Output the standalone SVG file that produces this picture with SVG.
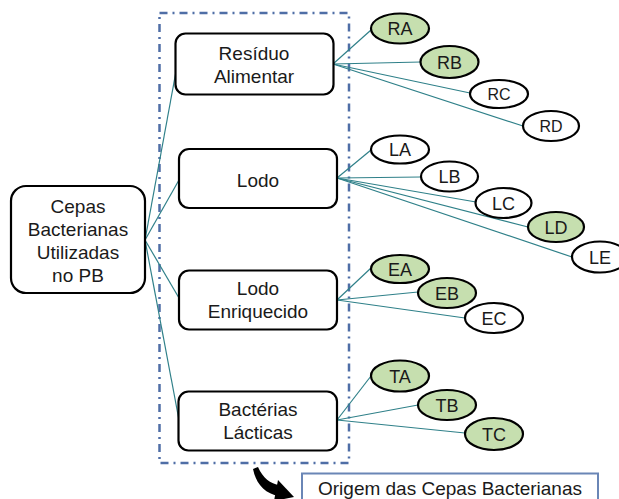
<svg xmlns="http://www.w3.org/2000/svg" width="619" height="499" viewBox="0 0 619 499">
<style>
.box{fill:#fff;stroke:#000;stroke-width:2.2}
.ell{fill:#fff;stroke:#000;stroke-width:2.2}
.g{fill:#C6DFAF}
.t{font-family:"Liberation Sans",Arial,sans-serif;font-size:19px;fill:#1a1a1a;text-anchor:middle}
.s{font-family:"Liberation Sans",Arial,sans-serif;font-size:18px;fill:#1a1a1a;text-anchor:middle}
.xs{font-size:16px}
.c line{stroke:#2F8089;stroke-width:1.2}
</style>
<rect width="619" height="499" fill="#fff"/>
<rect x="159.5" y="13" width="189.5" height="450" fill="none" stroke="#4F6EA6" stroke-width="2.5" stroke-dasharray="8,5,2,5"/>
<g class="c" id="connectors">
<line x1="145" y1="240" x2="177" y2="66"/>
<line x1="145" y1="240" x2="179" y2="180"/>
<line x1="145" y1="240" x2="179" y2="298"/>
<line x1="145" y1="240" x2="179" y2="420"/>
<line x1="333" y1="64" x2="371" y2="30"/>
<line x1="333" y1="64" x2="421" y2="62"/>
<line x1="333" y1="64" x2="470" y2="93"/>
<line x1="333" y1="64" x2="523" y2="126"/>
<line x1="337" y1="178" x2="371" y2="150"/>
<line x1="337" y1="178" x2="421" y2="177"/>
<line x1="337" y1="178" x2="476" y2="202"/>
<line x1="337" y1="178" x2="528" y2="227"/>
<line x1="337" y1="178" x2="572" y2="257"/>
<line x1="337" y1="300" x2="371" y2="268"/>
<line x1="337" y1="300" x2="418" y2="292"/>
<line x1="337" y1="300" x2="465" y2="318"/>
<line x1="337" y1="420" x2="371" y2="376"/>
<line x1="337" y1="420" x2="418" y2="405"/>
<line x1="337" y1="420" x2="465" y2="433"/>
</g>
<g id="root"><rect class="box" x="11" y="186" width="134" height="107" rx="15"/>
<text class="t" x="78" y="213">Cepas</text><text class="t" x="78" y="236">Bacterianas</text><text class="t" x="78" y="259">Utilizadas</text><text class="t" x="78" y="282">no PB</text></g>
<g id="residuo"><rect class="box" x="175.5" y="33.5" width="158" height="61" rx="10"/>
<text class="t" x="254" y="60">Resíduo</text><text class="t" x="254" y="83">Alimentar</text></g>
<g id="lodo"><rect class="box" x="179" y="149" width="158" height="59" rx="10"/>
<text class="t" x="258" y="187">Lodo</text></g>
<g id="lodoenr"><rect class="box" x="179" y="270.5" width="158" height="59" rx="10"/>
<text class="t" x="258" y="295">Lodo</text><text class="t" x="258" y="318">Enriquecido</text></g>
<g id="bact"><rect class="box" x="178.5" y="391.5" width="158.5" height="59" rx="10"/>
<text class="t" x="258" y="416">Bactérias</text><text class="t" x="258" y="439">Lácticas</text></g>
<g id="RA"><ellipse class="ell g" cx="400" cy="28.5" rx="29" ry="15"/><text class="s" x="400" y="35">RA</text></g>
<g id="RB"><ellipse class="ell g" cx="449.5" cy="62" rx="29" ry="16"/><text class="s" x="449.5" y="68.5">RB</text></g>
<g id="RC"><ellipse class="ell" cx="499" cy="94" rx="29" ry="14"/><text class="s xs" x="499" y="100">RC</text></g>
<g id="RD"><ellipse class="ell" cx="551" cy="126" rx="28" ry="15"/><text class="s xs" x="551" y="132">RD</text></g>
<g id="LA"><ellipse class="ell" cx="400" cy="149.5" rx="29" ry="14"/><text class="s" x="400" y="156">LA</text></g>
<g id="LB"><ellipse class="ell" cx="449.5" cy="176.5" rx="28.5" ry="15"/><text class="s" x="449.5" y="183">LB</text></g>
<g id="LC"><ellipse class="ell" cx="503.5" cy="203" rx="28" ry="15"/><text class="s" x="503.5" y="209.5">LC</text></g>
<g id="LD"><ellipse class="ell g" cx="556" cy="227" rx="28" ry="15"/><text class="s" x="556" y="233.5">LD</text></g>
<g id="LE"><ellipse class="ell" cx="600" cy="257" rx="28" ry="15.5"/><text class="s" x="600" y="263.5">LE</text></g>
<g id="EA"><ellipse class="ell g" cx="400" cy="269" rx="29" ry="14"/><text class="s" x="400" y="275.5">EA</text></g>
<g id="EB"><ellipse class="ell g" cx="447" cy="293" rx="29" ry="15"/><text class="s" x="447" y="299.5">EB</text></g>
<g id="EC"><ellipse class="ell" cx="494" cy="318" rx="29" ry="15"/><text class="s" x="494" y="324.5">EC</text></g>
<g id="TA"><ellipse class="ell g" cx="400" cy="376" rx="29" ry="15.5"/><text class="s" x="400" y="382.5">TA</text></g>
<g id="TB"><ellipse class="ell g" cx="447" cy="405" rx="29" ry="15"/><text class="s" x="447" y="411.5">TB</text></g>
<g id="TC"><ellipse class="ell g" cx="494" cy="434" rx="29" ry="16"/><text class="s" x="494" y="440.5">TC</text></g>
<g id="arrow">
<path d="M253,469 L258,467 C263,478 270,484 280,485 L279,496 C265,494 256,484 253,469 Z" fill="#000"/>
<polygon points="278,480 294,497 274,501" fill="#000"/>
</g>
<g id="caption"><rect x="302" y="473.5" width="296" height="30" fill="#fff" stroke="#6A86B6" stroke-width="2"/>
<text class="t" x="450" y="495">Origem das Cepas Bacterianas</text></g>
</svg>
